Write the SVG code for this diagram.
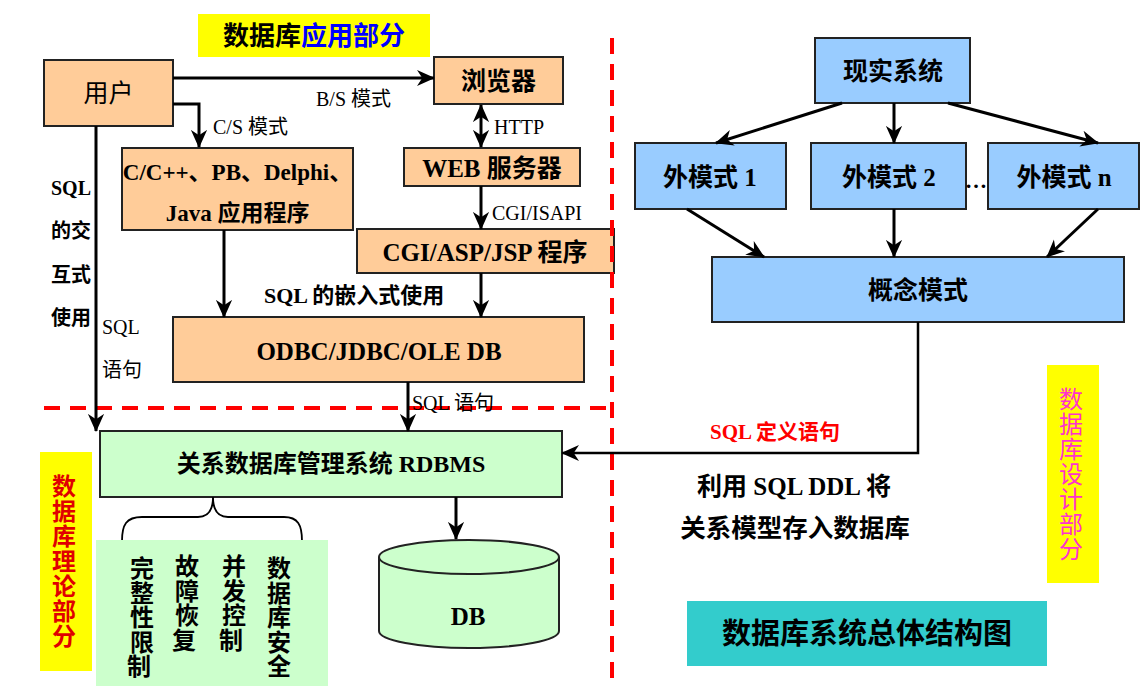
<svg xmlns="http://www.w3.org/2000/svg" width="1143" height="686" viewBox="0 0 1143 686">
<style>
.t{font-family:"Liberation Serif","Noto Sans CJK SC",serif;}
.b{font-weight:bold;}
.c{text-anchor:middle;dominant-baseline:central;}
.l{dominant-baseline:central;}
.peach{fill:#FFCC99;stroke:#222;stroke-width:2;}
.green{fill:#CCFFCC;stroke:#222;stroke-width:2;}
.blue{fill:#99CCFF;stroke:#222;stroke-width:2;}
.ar{stroke:#000;stroke-width:3;fill:none;marker-end:url(#ah);}
.red{stroke:#FF0000;stroke-width:4;stroke-dasharray:16 10;fill:none;}
</style>
<defs>
<marker id="ah" viewBox="0 0 20 20" markerUnits="userSpaceOnUse" markerWidth="18" markerHeight="18" refX="19" refY="10" orient="auto-start-reverse">
<path d="M0,1 L20,10 L0,19 L6,10 z" fill="#000"/>
</marker>
</defs>
<rect width="1143" height="686" fill="#fff"/>

<g id="title-app">
<rect x="198" y="14" width="232" height="43" fill="#FFFF00"/>
<text class="t b c" x="314" y="36" font-size="26"><tspan fill="#000">数据库</tspan><tspan fill="#0000FF">应用部分</tspan></text>
</g>

<g id="user">
<rect class="peach" x="44" y="60" width="129" height="66"/>
<text class="t c" x="108.5" y="93" font-size="25">用户</text>
</g>
<g id="browser">
<rect class="peach" x="434" y="57" width="129" height="47"/>
<text class="t b c" x="498.5" y="81" font-size="25">浏览器</text>
</g>
<g id="cs-app">
<rect class="peach" x="122" y="148" width="231" height="82"/>
<text class="t b c" x="237.5" y="172" font-size="23">C/C++、PB、Delphi、</text>
<text class="t b c" x="237.5" y="213" font-size="23">Java 应用程序</text>
</g>
<g id="web-server">
<rect class="peach" x="404" y="148" width="176" height="38"/>
<text class="t b c" x="492" y="168" font-size="25">WEB 服务器</text>
</g>
<g id="cgi">
<rect class="peach" x="357" y="229" width="257" height="44"/>
<text class="t b c" x="485" y="252" font-size="25">CGI/ASP/JSP 程序</text>
</g>
<g id="odbc">
<rect class="peach" x="173" y="317" width="411" height="65"/>
<text class="t b c" x="379" y="351" font-size="25">ODBC/JDBC/OLE DB</text>
</g>
<g id="rdbms">
<rect class="green" x="100" y="431" width="462" height="66"/>
<text class="t b c" x="331" y="464" font-size="24">关系数据库管理系统 RDBMS</text>
</g>
<g id="db">
<path d="M379,557 L379,631 A90,17 0 0 0 559,631 L559,557" class="green"/>
<ellipse cx="469" cy="557" rx="90" ry="17" class="green"/>
<text class="t b c" x="468" y="616" font-size="25">DB</text>
</g>
<g id="dbms-functions">
<path d="M122,541 C122,525 126,517 142,517 L198,517 C208,517 213,510 213,497 C213,510 218,517 228,517 L284,517 C298,517 302,525 302,541" fill="none" stroke="#000" stroke-width="1.8"/>
<rect x="96" y="540" width="232" height="146" fill="#CCFFCC"/>
<text class="t b c" font-size="24">
<tspan x="142" y="569">完</tspan><tspan x="142" y="593.5">整</tspan><tspan x="142" y="618">性</tspan><tspan x="142" y="642.5">限</tspan><tspan x="142" y="667">制</tspan>
<tspan x="187" y="567">故</tspan><tspan x="187" y="591.5">障</tspan><tspan x="187" y="616">恢</tspan><tspan x="187" y="640.5">复</tspan>
<tspan x="234" y="567">并</tspan><tspan x="234" y="591.5">发</tspan><tspan x="234" y="616">控</tspan><tspan x="234" y="640.5">制</tspan>
<tspan x="279" y="569">数</tspan><tspan x="279" y="593.5">据</tspan><tspan x="279" y="618">库</tspan><tspan x="279" y="642.5">安</tspan><tspan x="279" y="667">全</tspan>
</text>
</g>
<g id="theory-label">
<rect x="40" y="452" width="52" height="219" fill="#FFFF00"/>
<text class="t b c" font-size="24" fill="#E00000">
<tspan x="64" y="487">数</tspan><tspan x="64" y="512">据</tspan><tspan x="64" y="537">库</tspan><tspan x="64" y="562">理</tspan><tspan x="64" y="587">论</tspan><tspan x="64" y="612">部</tspan><tspan x="64" y="637">分</tspan>
</text>
</g>

<g id="real-system">
<rect class="blue" x="815" y="38" width="155" height="65"/>
<text class="t b c" x="893" y="71" font-size="25">现实系统</text>
</g>
<g id="ext1">
<rect class="blue" x="635" y="143" width="151" height="66"/>
<text class="t b c" x="710" y="177" font-size="25">外模式 1</text>
</g>
<g id="ext2">
<rect class="blue" x="811" y="143" width="155" height="66"/>
<text class="t b c" x="889" y="177" font-size="25">外模式 2</text>
</g>
<text class="t b" x="976" y="188" font-size="22" text-anchor="middle">…</text>
<g id="extn">
<rect class="blue" x="988" y="143" width="151" height="66"/>
<text class="t b c" x="1064" y="177" font-size="25">外模式 n</text>
</g>
<g id="concept">
<rect class="blue" x="712" y="257" width="412" height="65"/>
<text class="t b c" x="918" y="290" font-size="25">概念模式</text>
</g>
<g id="design-label">
<rect x="1047" y="365" width="52" height="218" fill="#FFFF00"/>
<text class="t c" font-size="24" fill="#FF33CC">
<tspan x="1071" y="400">数</tspan><tspan x="1071" y="425">据</tspan><tspan x="1071" y="450">库</tspan><tspan x="1071" y="475">设</tspan><tspan x="1071" y="500">计</tspan><tspan x="1071" y="525">部</tspan><tspan x="1071" y="550">分</tspan>
</text>
</g>
<g id="title-main">
<rect x="687" y="601" width="360" height="65" fill="#33CCCC"/>
<text class="t b c" x="867" y="634" font-size="29">数据库系统总体结构图</text>
</g>

<g id="dividers">
<line class="red" x1="44" y1="408" x2="606" y2="408"/>
<line class="red" x1="612" y1="38" x2="612" y2="686"/>
</g>

<g id="connectors">
<line class="ar" x1="173" y1="78" x2="434" y2="78"/>
<polyline class="ar" points="173,104 199,104 199,147"/>
<line class="ar" x1="481" y1="105" x2="481" y2="147" marker-start="url(#ah)"/>
<line class="ar" x1="481" y1="186" x2="481" y2="229"/>
<line class="ar" x1="481" y1="273" x2="481" y2="317"/>
<line class="ar" x1="224" y1="230" x2="224" y2="317"/>
<line class="ar" x1="408" y1="382" x2="408" y2="431"/>
<line class="ar" x1="96" y1="126" x2="96" y2="431"/>
<line class="ar" x1="456" y1="497" x2="456" y2="539"/>
<line class="ar" x1="842" y1="103" x2="716" y2="143"/>
<line class="ar" x1="894" y1="103" x2="894" y2="143"/>
<line class="ar" x1="948" y1="103" x2="1098" y2="143"/>
<line class="ar" x1="687" y1="209" x2="764" y2="257"/>
<line class="ar" x1="894" y1="209" x2="894" y2="257"/>
<line class="ar" x1="1098" y1="209" x2="1047" y2="257"/>
<polyline points="918,322 918,453 562,453" fill="none" stroke="#000" stroke-width="2.5" marker-end="url(#ah)"/>
</g>

<g id="labels">
<text class="t l" x="316" y="99" font-size="20">B/S 模式</text>
<text class="t l" x="213" y="127" font-size="20">C/S 模式</text>
<text class="t l" x="494" y="127" font-size="20">HTTP</text>
<text class="t l" x="492" y="213" font-size="20">CGI/ISAPI</text>
<text class="t b l" x="264" y="295" font-size="22">SQL 的嵌入式使用</text>
<text class="t l" x="412" y="403" font-size="20">SQL 语句</text>
<text class="t b l" x="51" y="188" font-size="20">SQL</text>
<text class="t b l" x="51" y="231" font-size="20">的交</text>
<text class="t b l" x="51" y="275" font-size="20">互式</text>
<text class="t b l" x="51" y="318" font-size="20">使用</text>
<text class="t l" x="102" y="327" font-size="20">SQL</text>
<text class="t l" x="102" y="370" font-size="20">语句</text>
<text class="t b l" x="710" y="432" font-size="21" fill="#FF0000">SQL 定义语句</text>
<text class="t b c" x="794" y="486" font-size="25">利用 SQL DDL 将</text>
<text class="t b c" x="795" y="528" font-size="25.5">关系模型存入数据库</text>
</g>
</svg>
